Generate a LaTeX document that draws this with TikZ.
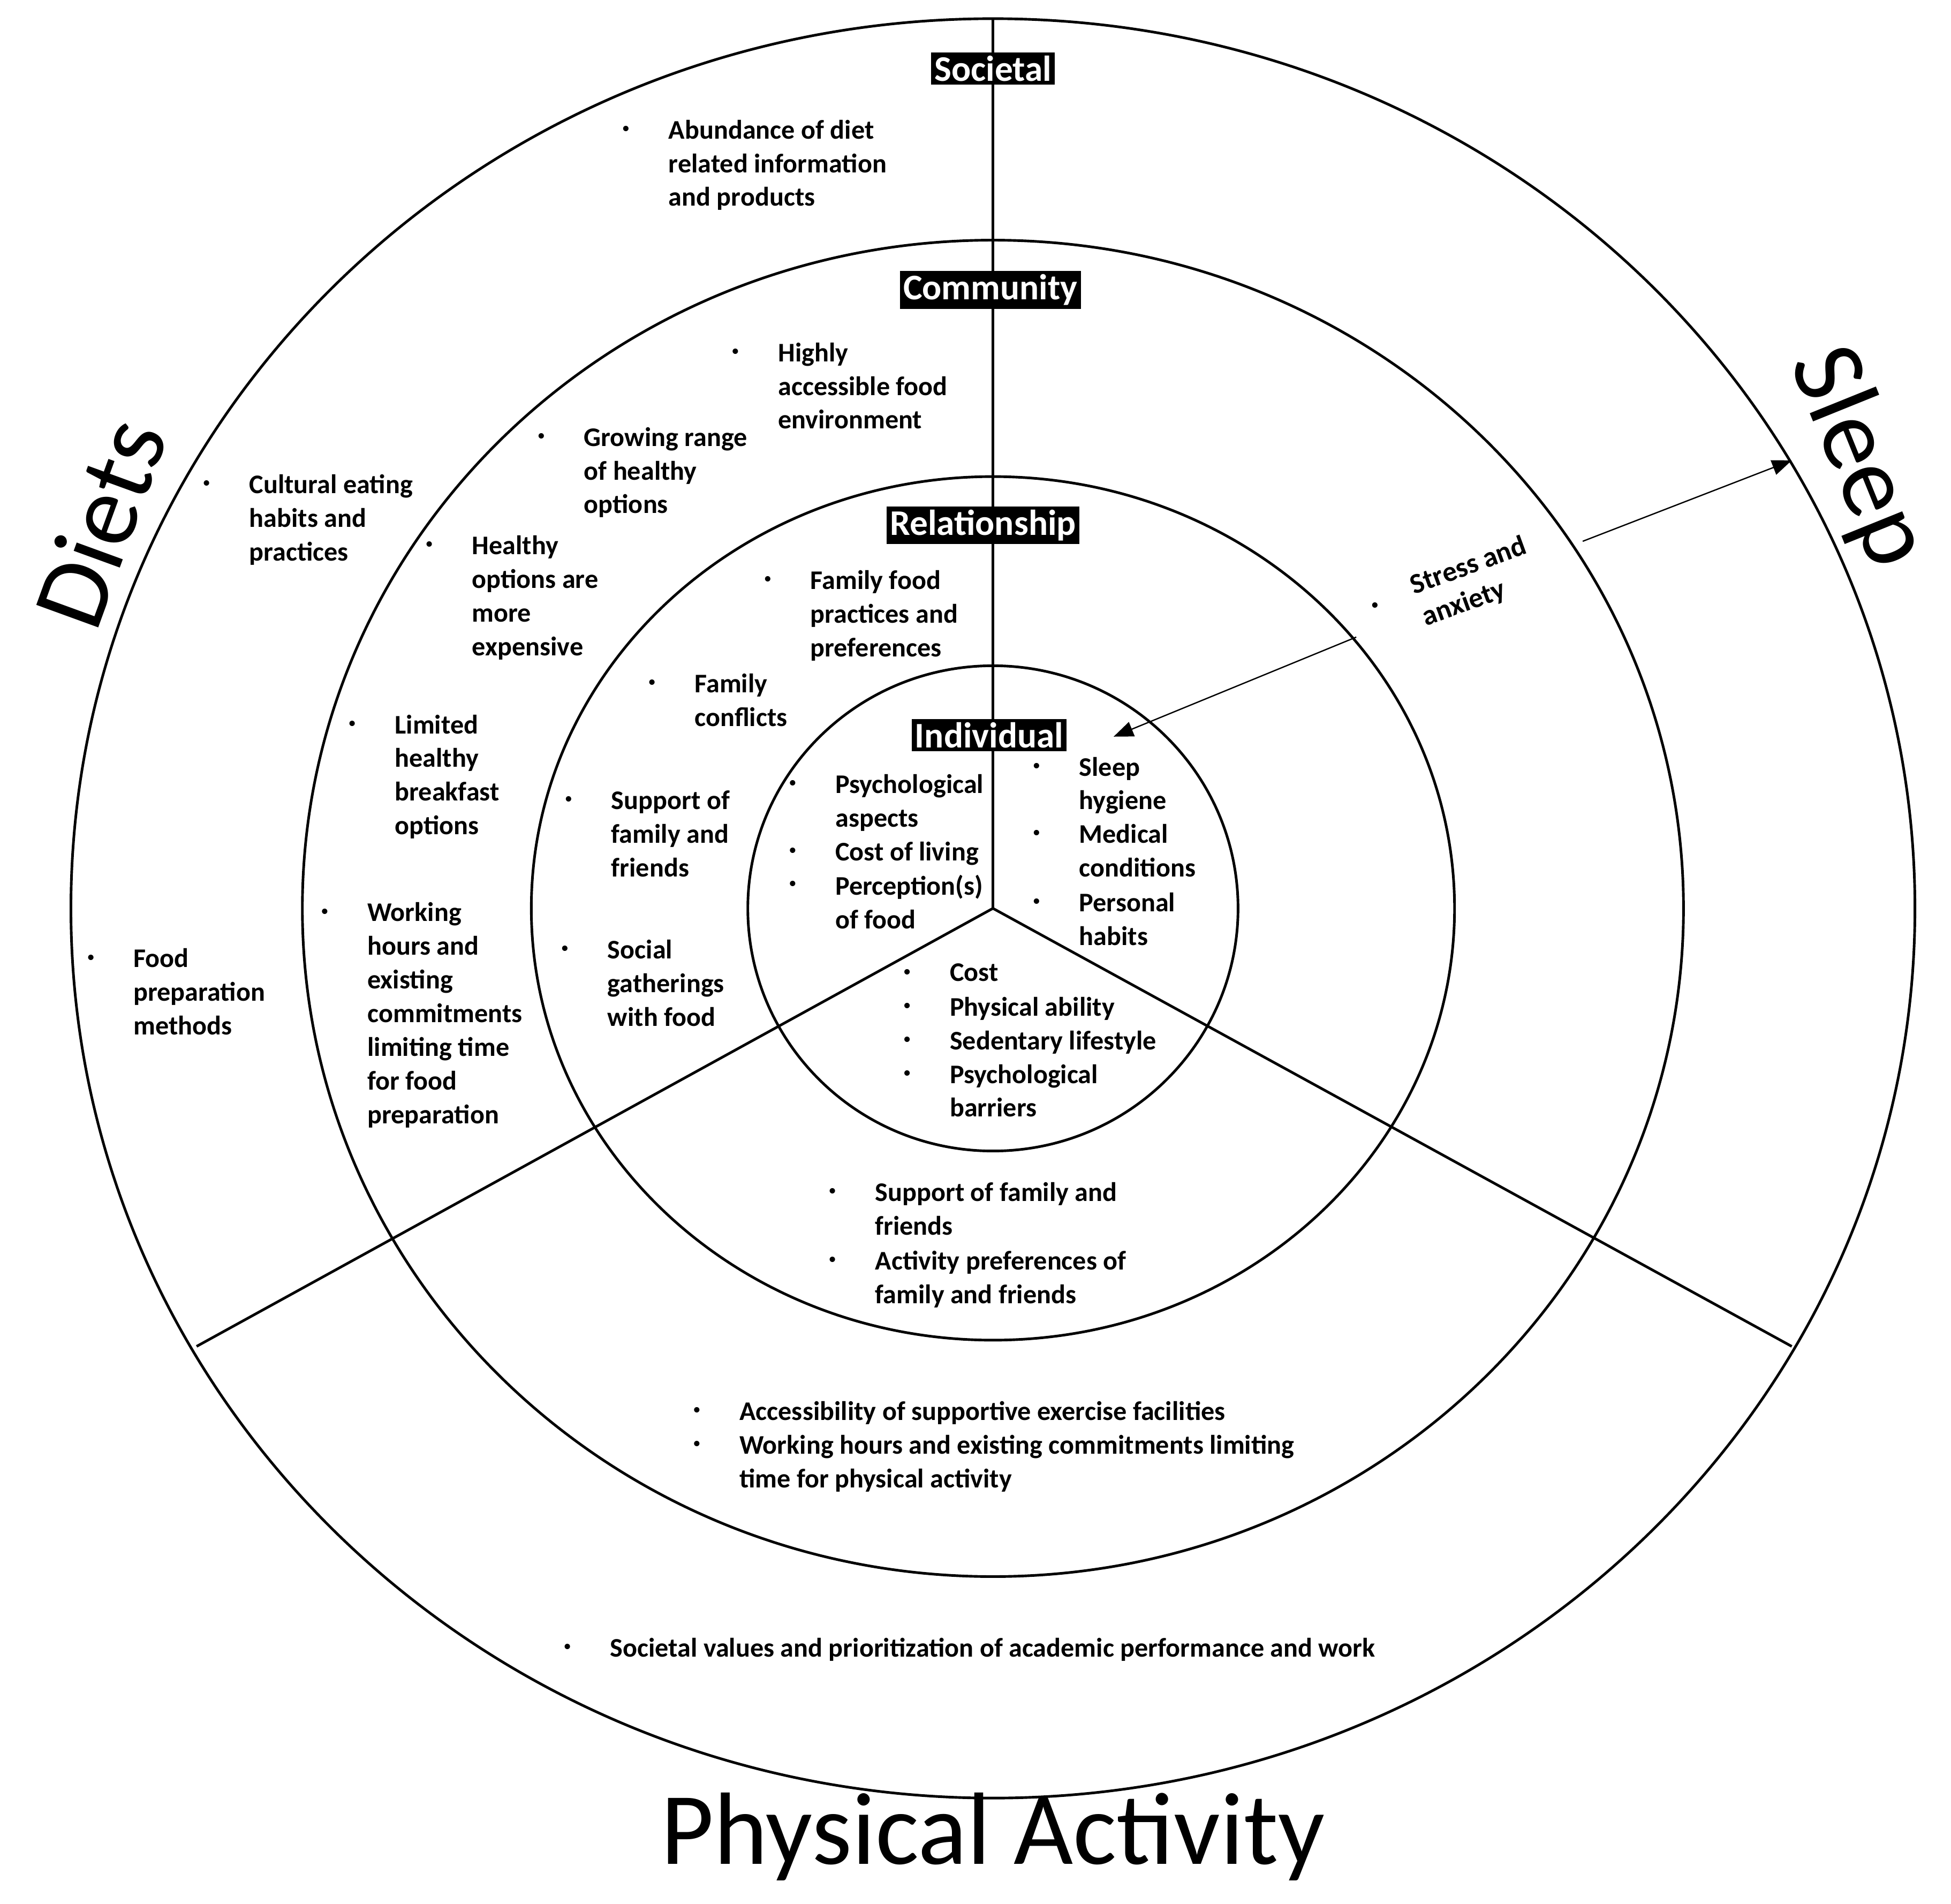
\documentclass[tikz,border=0pt]{standalone}
\usepackage{fontspec}
\setmainfont{Carlito}
\usetikzlibrary{arrows.meta}
\begin{document}
\begin{tikzpicture}[x=0.02cm,y=-0.02cm,
  ring/.style={draw=black,line width=1.2pt},
  txt/.style={anchor=north west,inner sep=0pt,align=left,font=\bfseries\fontsize{12.3}{15.4}\selectfont},
  dot/.style={inner sep=0pt,font=\fontsize{7}{8}\selectfont},
  lvl/.style={fill=black,text=white,inner sep=1.5pt,font=\bfseries\fontsize{16.5}{18}\selectfont},
  big/.style={font=\fontsize{47}{50}\selectfont}]
\useasboundingbox (0,0) rectangle (1568,1530);
\newcommand{\bul}[4]{\node[txt] (#1) at (#2,#3-8) {#4}; \node[dot] (#1b) at (#2-34,#3) {\textbullet};}
\coordinate (c) at (798,730);
\coordinate (top) at (798,15);
\coordinate (ll) at (158,1082);
\coordinate (lr) at (1440,1082);
\draw[ring] (c) ellipse [x radius=741,y radius=715];
\draw[ring] (c) ellipse [x radius=555,y radius=537];
\draw[ring] (c) ellipse [x radius=371,y radius=347];
\draw[ring] (c) ellipse [x radius=197,y radius=195];
\draw[ring] (c) -- (top);
\draw[ring] (c) -- (ll);
\draw[ring] (c) -- (lr);
\node[lvl] (soc) at (798,55) {Societal};
\node[lvl] (com) at (796,233) {Community};
\node[lvl] (rel) at (790,422) {Relationship};
\node[lvl] (ind) at (795,591) {Individual};
\node[big,rotate=70] (diets) at (80,420) {Diets};
\node[big,rotate=-68] (sleep) at (1493,368) {Sleep};
\node[big] (pa) at (798,1476) {Physical Activity};
% Societal
\bul{s1}{537}{104}{Abundance of diet\\related information\\and products}
\bul{s2}{200}{389}{Cultural eating\\habits and\\practices}
\bul{s3}{107}{770}{Food\\preparation\\methods}
\bul{s4}{490}{1324}{Societal values and prioritization of academic performance and work}
% Community
\bul{c1}{625}{283}{Highly\\accessible food\\environment}
\bul{c2}{469}{351}{Growing range\\of healthy\\options}
\bul{c3}{379}{438}{Healthy\\options are\\more\\expensive}
\bul{c4}{317}{582}{Limited\\healthy\\breakfast\\options}
\bul{c5}{295}{733}{Working\\hours and\\existing\\commitments\\limiting time\\for food\\preparation}
\bul{c6}{594}{1134}{Accessibility of supportive exercise facilities}
\bul{c7}{594}{1161}{Working hours and existing commitments limiting\\time for physical activity}
\node[txt,anchor=center,rotate=20,align=left,font=\bfseries\fontsize{13}{15.4}\selectfont] (sa) at (1185,468) {Stress and\\anxiety};
\node[dot] (sab) at (1105,487) {\textbullet};
\coordinate (sa1) at (1090,512);
\coordinate (sa2) at (1272,435);
\coordinate (ia) at (895,592);
\coordinate (oa) at (1440,370);
\draw[line width=0.6pt,-{Triangle[length=9pt,width=7pt]}] (sa1) -- (ia);
\draw[line width=0.6pt,-{Triangle[length=9pt,width=7pt]}] (sa2) -- (oa);
% Relationship
\bul{r1}{651}{466}{Family food\\practices and\\preferences}
\bul{r2}{558}{549}{Family\\conflicts}
\bul{r3}{491}{643}{Support of\\family and\\friends}
\bul{r4}{488}{763}{Social\\gatherings\\with food}
\bul{r5}{703}{958}{Support of family and\\friends}
\bul{r6}{703}{1013}{Activity preferences of\\family and friends}
% Individual
\bul{i1}{671}{630}{Psychological\\aspects}
\bul{i2}{671}{684}{Cost of living}
\bul{i3}{671}{711}{Perception(s)\\of food}
\bul{i4}{867}{616}{Sleep\\hygiene}
\bul{i5}{867}{670}{Medical\\conditions}
\bul{i6}{867}{725}{Personal\\habits}
\bul{i7}{763}{782}{Cost}
\bul{i8}{763}{809}{Physical ability}
\bul{i9}{763}{836}{Sedentary lifestyle}
\bul{i10}{763}{863}{Psychological\\barriers}
\end{tikzpicture}
\end{document}
